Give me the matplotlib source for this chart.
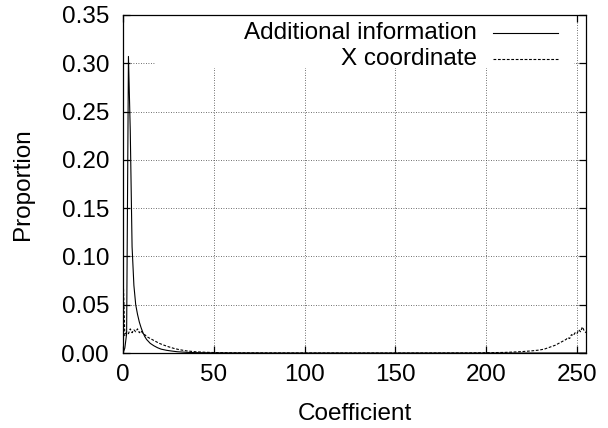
import matplotlib
matplotlib.use("Agg")
import matplotlib.pyplot as plt
from matplotlib.lines import Line2D
from matplotlib.patches import Rectangle

plt.rcParams['font.family'] = ['Liberation Sans', 'DejaVu Sans']

# coefficient positions and proportions
add_x = [0, 1, 2, 3, 4, 5, 6, 7, 8, 9, 10, 11, 12, 13, 14, 15, 17, 19, 21, 24,
         27, 30, 35, 40, 50, 60, 80, 120, 160, 200, 230, 255]
add_y = [0.0, 0.005, 0.02, 0.307, 0.23, 0.11, 0.07, 0.05, 0.04, 0.032, 0.026,
         0.021, 0.017, 0.014, 0.012, 0.010, 0.0075, 0.0055, 0.004, 0.0028,
         0.002, 0.0013, 0.0007, 0.0004, 0.0002, 0.0001, 0.0, 0.0, 0.0, 0.0,
         0.0, 0.0]

xc_x = [0, 1, 2, 3, 4, 5, 6, 7, 8, 9, 10, 11, 12, 13, 14, 16, 18, 20, 22, 25,
        28, 31, 35, 40, 45, 50, 60, 80, 120, 160, 190, 200, 210, 215, 220, 225,
        229, 232, 235, 238, 240, 242, 244, 245, 246, 247, 248, 249, 250, 251,
        252, 253, 254, 255]
xc_y = [0.085, 0.018, 0.022, 0.020, 0.025, 0.021, 0.024, 0.022, 0.025, 0.021,
        0.023, 0.020, 0.019, 0.017, 0.016, 0.014, 0.012, 0.010, 0.0085, 0.0065,
        0.0048, 0.0035, 0.0022, 0.0013, 0.0008, 0.0005, 0.0002, 0.0001, 0.0,
        0.0, 0.0001, 0.0003, 0.0006, 0.001, 0.0015, 0.0022, 0.003, 0.004,
        0.006, 0.008, 0.010, 0.012, 0.014, 0.016, 0.015, 0.019, 0.018, 0.021,
        0.020, 0.024, 0.022, 0.027, 0.023, 0.021]

labels = ['Additional information', 'X coordinate']
xticks = [0, 50, 100, 150, 200, 250]
yticks = [0.00, 0.05, 0.10, 0.15, 0.20, 0.25, 0.30, 0.35]

FS = 17.5

fig = plt.figure(figsize=(6.08, 4.28), dpi=100)
ax = fig.add_axes([0.2023, 0.1752, 0.7615, 0.790])

ax.plot(add_x, add_y, color='black', lw=0.8, zorder=3)
ax.plot(xc_x, xc_y, color='black', lw=0.8, linestyle=(0, (2.5, 1.5)), zorder=3)

ax.set_xlim(0, 255)
ax.set_ylim(0, 0.35)
ax.set_xticks(xticks)
ax.set_yticks(yticks)
ax.set_yticklabels([f'{v:.2f}' for v in yticks])
ax.tick_params(direction='in', length=5, width=0.9, top=True, right=True,
               labelsize=FS)
ax.tick_params(axis='y', pad=10)
ax.tick_params(axis='x', pad=8)
ax.grid(True, color='0.25', linestyle=(0, (1, 2)), lw=0.6)
ax.set_axisbelow(True)
for s in ax.spines.values():
    s.set_linewidth(0.9)

ax.set_xlabel('Coefficient', fontsize=FS, labelpad=12)
ax.set_ylabel('Proportion', fontsize=FS, labelpad=20)

# key box (opaque, no border) like gnuplot
ax.add_patch(Rectangle((0.069, 0.843), 0.905, 0.157, transform=ax.transAxes,
                       facecolor='white', edgecolor='none', zorder=1.5))
rows = [0.945, 0.869]
styles = ['-', (0, (2.5, 1.5))]
for lab, yy, ls in zip(labels, rows, styles):
    ax.text(0.765, yy, lab, transform=ax.transAxes, ha='right', va='center',
            fontsize=FS, zorder=4)
    ax.add_line(Line2D([0.799, 0.940], [yy + 0.002, yy + 0.002],
                       transform=ax.transAxes, color='black', lw=0.8,
                       linestyle=ls, zorder=4))

fig.savefig('out.png', dpi=100)
